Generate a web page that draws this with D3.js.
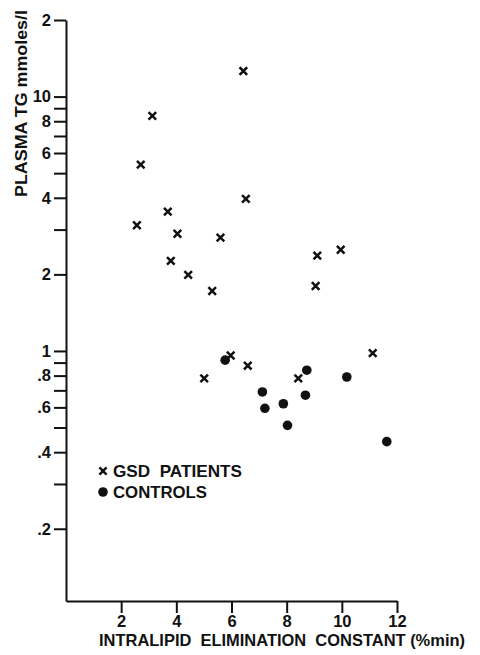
<!DOCTYPE html>
<html>
<head>
<meta charset="utf-8">
<script src="https://cdn.jsdelivr.net/npm/d3@7"></script>
<style>
  body { margin: 0; background: #fff; }
  svg text { font-family: "Liberation Sans", Arial, sans-serif; font-weight: bold; fill: #111; }
</style>
</head>
<body>
<svg id="chart"></svg>
<script>
// GSD patients (x marks)
var gsdX = [6.43, 3.13, 2.71, 6.52, 3.69, 2.57, 4.04, 5.60, 3.80, 4.43, 5.30, 9.11, 9.96, 9.05, 5.97, 6.59, 5.01, 8.42, 11.12];
var gsdY = [12.6, 8.4, 5.4, 3.96, 3.53, 3.12, 2.89, 2.79, 2.26, 1.99, 1.72, 2.37, 2.50, 1.80, 0.96, 0.875, 0.78, 0.78, 0.98];
// controls (dots)
var ctrlX = [5.77, 8.73, 10.18, 7.12, 7.21, 7.88, 8.68, 8.03, 11.63];
var ctrlY = [0.92, 0.84, 0.79, 0.69, 0.595, 0.62, 0.67, 0.51, 0.44];

var xTicks = [2, 4, 6, 8, 10, 12];
var yTicks = [20, 10, 8, 6, 4, 2, 1, 0.8, 0.6, 0.4, 0.2];
var yTickLabels = ["2", "10", "8", "6", "4", "2", "1", ".8", ".6", ".4", ".2"];
var yMinorTicks = [9, 7, 5, 3, 0.9, 0.7, 0.5, 0.3];

var legendLabels = ["GSD  PATIENTS", "CONTROLS"];
var xTitle = "INTRALIPID  ELIMINATION  CONSTANT (%min)";
var yTitle = "PLASMA TG mmoles/l";

var width = 480, height = 655;

var svg = d3.select("#chart")
  .attr("width", width)
  .attr("height", height);

var x = d3.scaleLinear().domain([0, 12]).range([66, 397]);
var y = d3.scaleLog().domain([0.104, 20]).range([601, 20]);

// y axis, labelled and unlabelled ticks
svg.append("g")
  .attr("transform", "translate(" + x(0) + ",0)")
  .call(d3.axisLeft(y)
    .tickValues(yTicks)
    .tickFormat(function (d, i) { return yTickLabels[i]; })
    .tickSize(12)
    .tickSizeOuter(0)
    .tickPadding(3));

svg.append("g")
  .attr("transform", "translate(" + x(0) + ",0)")
  .call(d3.axisLeft(y).tickValues(yMinorTicks).tickFormat("").tickSize(12).tickSizeOuter(0))
  .select(".domain").remove();

// x axis
svg.append("g")
  .attr("transform", "translate(0," + y(0.104) + ")")
  .call(d3.axisBottom(x)
    .tickValues(xTicks)
    .tickSize(12)
    .tickSizeOuter(0)
    .tickPadding(2));

svg.selectAll(".domain, .tick line")
  .attr("stroke", "#111")
  .attr("stroke-width", 2);
svg.selectAll(".tick text")
  .style("font-size", "16.5px")
  .attr("fill", "#111");

// axis titles
svg.append("text")
  .attr("x", 99)
  .attr("y", 646)
  .attr("textLength", 366)
  .attr("lengthAdjust", "spacingAndGlyphs")
  .style("font-size", "16.5px")
  .style("white-space", "pre")
  .text(xTitle);

svg.append("text")
  .attr("transform", "translate(27,197) rotate(-90)")
  .attr("textLength", 187)
  .attr("lengthAdjust", "spacingAndGlyphs")
  .style("font-size", "16.5px")
  .text(yTitle);

// markers
var cross = function (sel, cx, cy, s) {
  sel.append("path")
    .attr("d", "M" + (cx - s) + "," + (cy - s) + "L" + (cx + s) + "," + (cy + s) +
      "M" + (cx - s) + "," + (cy + s) + "L" + (cx + s) + "," + (cy - s))
    .attr("stroke", "#111")
    .attr("stroke-width", 2.5)
    .attr("fill", "none");
};

var ctrlG = svg.append("g");
ctrlX.forEach(function (d, i) {
  ctrlG.append("circle")
    .attr("cx", x(d))
    .attr("cy", y(ctrlY[i]))
    .attr("r", 4.8)
    .attr("fill", "#111");
});

var gsdG = svg.append("g");
gsdX.forEach(function (d, i) {
  cross(gsdG, x(d), y(gsdY[i]), 3.8);
});

// legend
var lg = svg.append("g");
cross(lg, 103, 471, 3.6);
lg.append("circle").attr("cx", 103).attr("cy", 492).attr("r", 4.8).attr("fill", "#111");
lg.append("text")
  .attr("x", 113).attr("y", 477)
  .attr("textLength", 129)
  .attr("lengthAdjust", "spacingAndGlyphs")
  .style("font-size", "16.5px")
  .style("white-space", "pre")
  .text(legendLabels[0]);
lg.append("text")
  .attr("x", 113).attr("y", 498)
  .attr("textLength", 94)
  .attr("lengthAdjust", "spacingAndGlyphs")
  .style("font-size", "16.5px")
  .text(legendLabels[1]);
</script>
</body>
</html>
